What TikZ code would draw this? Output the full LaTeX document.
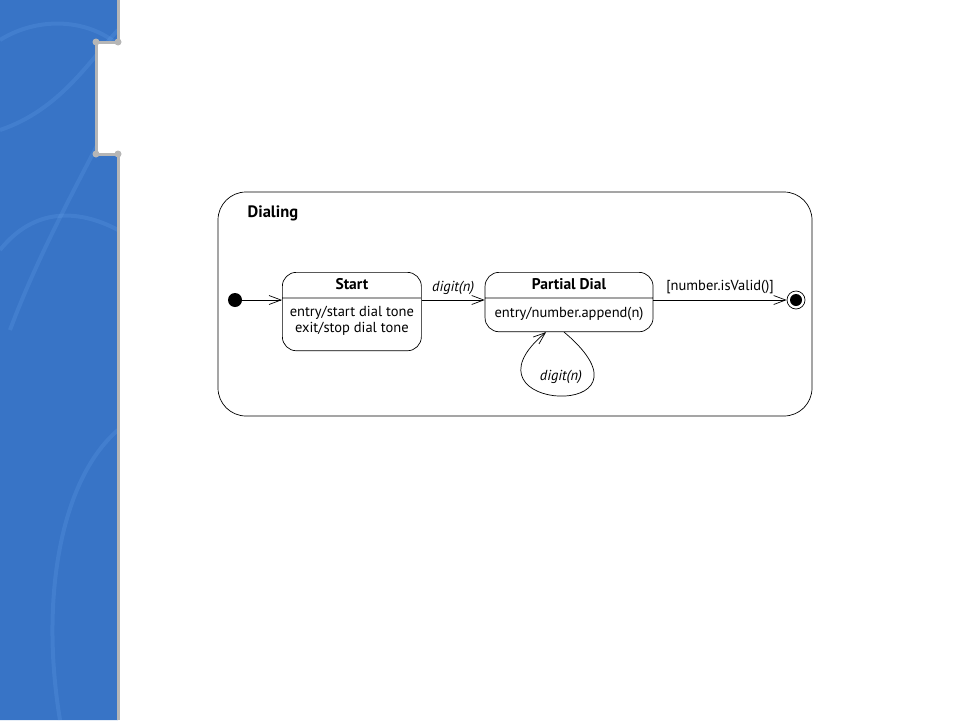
\documentclass[tikz,border=0pt]{standalone}
\usepackage{fontspec}
\setmainfont{PT Sans}
\usetikzlibrary{arrows.meta,positioning,shapes.multipart}

\definecolor{bandblue}{RGB}{56,116,198}
\definecolor{streakblue}{RGB}{110,170,240}
\definecolor{bracketgrey}{RGB}{182,182,182}

\newcommand{\titlestrut}{\rule[-3.5pt]{0pt}{15pt}}
\newcommand{\titlefont}{\fontsize{15.5}{16}\selectfont\bfseries}

\begin{document}
\begin{tikzpicture}[x=1pt,y=-1pt,>={Straight Barb[length=12pt,width=9pt]},
    every node/.style={font=\fontsize{14.5}{16}\selectfont},
    state/.style={draw,rectangle split,rectangle split parts=2,rounded corners=14pt,
      inner xsep=4pt,inner ysep=5pt,align=center,anchor=north west},
    initial/.style={circle,fill,inner sep=0pt,minimum size=14pt},
    final/.style={circle,draw,inner sep=0pt,minimum size=18pt,
      path picture={\fill (path picture bounding box.center) circle (6pt);}},
    streak/.style={streakblue,line width=4pt,opacity=0.2},
    line width=0.7pt]

  \useasboundingbox (0,0) rectangle (960,720);

  % slide band
  \begin{scope}
    \fill[bandblue] (0,0) -- (118,0) -- (118,42) -- (96,42) -- (96,154) -- (118,154) -- (118,720) -- (0,720) -- cycle;
    \clip (0,0) -- (118,0) -- (118,42) -- (96,42) -- (96,154) -- (118,154) -- (118,720) -- (0,720) -- cycle;
    \draw[streak] (0,40) .. controls (40,15) and (90,20) .. (118,45);
    \draw[streak] (0,130) .. controls (60,110) and (90,60) .. (118,30);
    \draw[streak] (10,330) .. controls (40,250) and (80,180) .. (110,120);
    \draw[streak] (0,250) .. controls (40,200) and (90,215) .. (118,230);
    \draw[streak] (60,720) .. controls (40,600) and (60,480) .. (118,430);
  \end{scope}
  \draw[bracketgrey,line width=3pt] (118,0) -- (118,42) -- (96,42) -- (96,154) -- (118,154) -- (118,720);
  \foreach \p in {(96,42),(118,42),(96,154),(118,154)}
    \fill[bracketgrey] \p circle (3.5pt);

  % composite state
  \node[draw,rounded corners=28pt,minimum width=594pt,minimum height=224pt] (dialing) at (515,304) {};
  \node[anchor=west] (dialinglabel) at (244,213) {\fontsize{16.5}{18}\selectfont\bfseries Dialing};

  \node[initial] (init) at (235,300) {};
  \node[state,minimum width=139pt] (start) at (282,272)
    {{\titlefont Start}\titlestrut
     \nodepart{two}\rule{0pt}{13.5pt}entry/start dial tone\\exit/stop dial tone\rule[-12.5pt]{0pt}{12.5pt}};
  \node[state,minimum width=168pt,right=63pt of start.north east,anchor=north west] (partial)
    {{\titlefont Partial Dial}\titlestrut
     \nodepart{two}\rule{0pt}{14.5pt}entry/number.append(n)\rule[-8.5pt]{0pt}{8.5pt}};
  \node[final] (final) at (796,300) {};

  \path[->] (init) edge (init -| start.west);
  \path[->] (start.east |- init) edge node[above=2pt] {\itshape digit(n)} (init -| partial.west);
  \path[->] (partial.east |- init) edge node[above=2pt] {[number.isValid()]} (final);

  \draw[->] ([xshift=-5pt]partial.south) .. controls +(-40:140pt) and +(-140:125pt) .. ([xshift=-23pt]partial.south);
  \node (looplabel) at (561,377) {\itshape digit(n)};

\end{tikzpicture}
\end{document}
